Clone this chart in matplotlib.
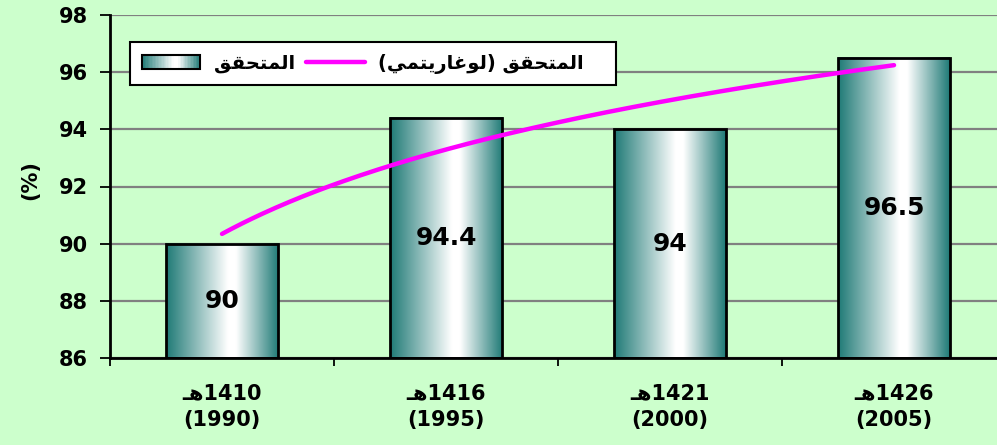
import numpy as np
import matplotlib
matplotlib.use("Agg")
import matplotlib.pyplot as plt
import matplotlib.colors as mcolors
from matplotlib.patches import Rectangle
from matplotlib.lines import Line2D
from matplotlib.legend_handler import HandlerBase

# data
hijri_years = ["1410", "1416", "1421", "1426"]
greg_years = ["1990", "1995", "2000", "2005"]
achieved = [90, 94.4, 94, 96.5]

# Arabic labels, pre-shaped (presentation forms, visual order)
LBL_ACHIEVED = "\uFED6\uFED8\uFEA4\uFE98\uFEE4\uFEDF\uFE8D"          # المتحقق
LBL_LOG = "\uFEF2\uFEE4\uFE98\uFEF3\uFEAD\uFE8E\uFECF\uFEEE\uFEDF"   # لوغاريتمي
LBL_TREND = "(" + LBL_LOG + ") " + LBL_ACHIEVED
HEH = "\u0640\uFEEB"                                                   # هـ

BG = "#CCFFCC"
TEAL = "#1f7a76"
GRID = "#808080"
MAGENTA = "#FF00FF"
FONT = ["DejaVu Sans"]

cmap = mcolors.LinearSegmentedColormap.from_list(
    "cyl", [(0.0, TEAL), (0.55, "#ffffff"), (0.62, "#ffffff"), (1.0, TEAL)]
)

plt.rcParams["font.family"] = FONT
plt.rcParams["font.weight"] = "bold"

fig = plt.figure(figsize=(9.97, 4.45), dpi=100)
fig.patch.set_facecolor(BG)
ax = fig.add_axes([110 / 997, 87 / 445, 896 / 997, 343 / 445])
ax.set_facecolor(BG)

x = np.arange(len(achieved))
width = 0.5
ymin = 86
grad = np.linspace(0, 1, 256).reshape(1, -1)

for xi, v in zip(x, achieved):
    ax.imshow(grad, cmap=cmap, aspect="auto", zorder=2,
              extent=[xi - width / 2, xi + width / 2, ymin, v], interpolation="bilinear")
bars = ax.bar(x, np.array(achieved) - ymin, bottom=ymin, width=width,
              facecolor="none", edgecolor="black", linewidth=2, zorder=3)

for xi, v in zip(x, achieved):
    ax.text(xi, (v + ymin) / 2, f"{v:g}", ha="center", va="center",
            fontsize=18, fontweight="bold", color="black", zorder=5)

# logarithmic trend line (as Excel draws it)
t = np.arange(1, len(achieved) + 1)
a, b = np.polyfit(np.log(t), achieved, 1)
ts = np.linspace(1, len(achieved), 200)
ax.plot(ts - 1, a * np.log(ts) + b, color=MAGENTA, linewidth=3.2, zorder=4,
        solid_capstyle="round")

ax.set_xlim(-0.5, len(achieved) - 0.5)
ax.set_ylim(86, 98)
ax.set_yticks(np.arange(86, 99, 2))
ax.yaxis.grid(True, color=GRID, linewidth=1.6)
ax.set_axisbelow(True)
ax.tick_params(axis="y", direction="out", length=7, width=1.3, labelsize=15, pad=9)

ax.set_xticks(np.arange(-0.5, len(achieved), 1))
ax.set_xticklabels([])
ax.set_xticks(x, minor=True)
ax.set_xticklabels([f"{HEH}{h}\n({g})" for h, g in zip(hijri_years, greg_years)],
                   minor=True, fontsize=15, linespacing=1.45)
ax.tick_params(axis="x", which="major", direction="out", length=6, width=1.3)
ax.tick_params(axis="x", which="minor", length=0, pad=18)

for s in ["top", "right"]:
    ax.spines[s].set_visible(False)
for s in ["left", "bottom"]:
    ax.spines[s].set_linewidth(2)
    ax.spines[s].set_color("black")

fig.text(30 / 997, 1 - 180 / 445, "(%)", rotation=90, ha="center", va="center",
         fontsize=15, fontweight="bold")


class GradHandler(HandlerBase):
    def create_artists(self, legend, orig_handle, xdescent, ydescent, width, height, fontsize, trans):
        arts = []
        n = 40
        for i in range(n):
            arts.append(Rectangle((-xdescent + width * i / n, -ydescent), width / n + 0.3, height,
                                  facecolor=cmap((i + 0.5) / n), edgecolor="none", transform=trans))
        arts.append(Rectangle((-xdescent, -ydescent), width, height, fill=False,
                              edgecolor="black", linewidth=1.5, transform=trans))
        return arts


bar_proxy = Rectangle((0, 0), 1, 1)
line_proxy = Line2D([], [], color=MAGENTA, linewidth=3.2, solid_capstyle="round")
leg = fig.legend([bar_proxy, line_proxy], [LBL_ACHIEVED, LBL_TREND + "   "],
                 handler_map={bar_proxy: GradHandler()},
                 loc="upper left", bbox_to_anchor=(130 / 997, 1 - 42 / 445),
                 ncol=2, fancybox=False, framealpha=1, edgecolor="black",
                 prop={"size": 14, "weight": "bold"}, handlelength=3.0,
                 handletextpad=0.7, columnspacing=0.6, borderpad=0.6, borderaxespad=0)
leg.get_frame().set_linewidth(1.5)

fig.savefig("out.png", dpi=100, facecolor=BG)
